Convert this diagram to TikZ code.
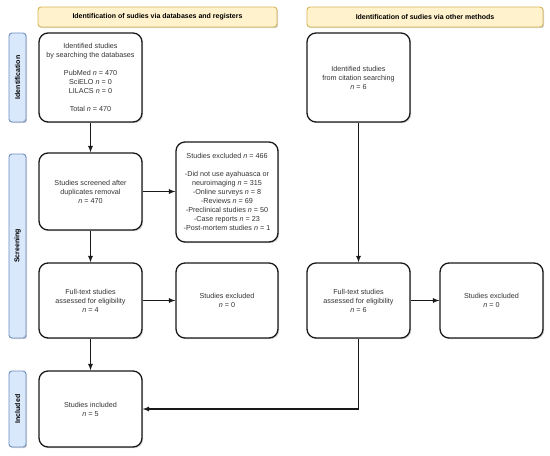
\documentclass[tikz,border=0pt]{standalone}
\usepackage{fontspec}
\setmainfont{Liberation Sans}
\usetikzlibrary{shadows}
\definecolor{headfill}{HTML}{FFF2CC}
\definecolor{headdraw}{HTML}{D6B656}
\definecolor{phasefill}{HTML}{DAE8FC}
\definecolor{phasedraw}{HTML}{6C8EBF}
\begin{document}
\begin{tikzpicture}[x=1pt,y=-1pt]
	\tikzstyle{stagebox} = [draw=black!90, fill=white, rounded corners=9pt, line width=1.3pt, minimum width=103pt, minimum height=77pt, align=center, text=black!80, font={\fontsize{7.2}{9}\selectfont}, drop shadow={shadow xshift=1.2pt, shadow yshift=-1.2pt, opacity=0.35}]
	\tikzstyle{header} = [draw=headdraw, fill=headfill, rounded corners=3pt, line width=0.9pt, minimum height=20pt, font={\bfseries\fontsize{7}{8}\selectfont}, drop shadow={shadow xshift=1.2pt, shadow yshift=-1.2pt, opacity=0.35}]
	\tikzstyle{phase} = [draw=phasedraw, fill=phasefill, rounded corners=3pt, line width=0.9pt, rotate=90, minimum height=17pt, font={\bfseries\fontsize{7}{8}\selectfont}, drop shadow={shadow xshift=1.2pt, shadow yshift=-1.2pt, opacity=0.35}]
	\tikzstyle{flow} = [draw=black!90, line width=1.2pt, -latex]
	\useasboundingbox (0,0) rectangle (550,456);
	% headers and phases
	\node[header, minimum width=239pt] (hdb) at (157.5,17) {Identification of sudies via databases and registers};
	\node[header, minimum width=236pt] (hot) at (425,17) {Identification of sudies via other methods};
	\node[phase, minimum width=89pt] (pid) at (17.5,77.5) {Identification};
	\node[phase, minimum width=184pt] (psc) at (17.5,246) {Screening};
	\node[phase, minimum width=76pt] (pin) at (17.5,409) {Included};
	% databases
	\node[stagebox, minimum height=89pt] (ident) at (90.5,77.5) {Identified studies\\by searching the databases\\[9pt]PubMed \textit{n} = 470\\SciELO \textit{n} = 0\\LILACS \textit{n} = 0\\[9pt]Total \textit{n} = 470};
	\node[stagebox] (screen) at (90.5,191.5) {Studies screened after\\duplicates removal\\\textit{n} = 470};
	\node[stagebox, minimum width=102pt, minimum height=100pt] (excl) at (227,192) {Studies excluded \textit{n} = 466\\[9pt]-Did not use ayahuasca or\\neuroimaging \textit{n} = 315\\-Online surveys \textit{n} = 8\\-Reviews \textit{n} = 69\\-Preclinical studies \textit{n} = 50\\-Case reports \textit{n} = 23\\-Post-mortem studies \textit{n} = 1};
	\node[stagebox, minimum height=75pt] (full) at (90.5,300.5) {Full-text studies\\assessed for eligibility\\\textit{n} = 4};
	\node[stagebox, minimum width=102pt, minimum height=75pt] (exfull) at (227,300.5) {Studies excluded\\\textit{n} = 0};
	\node[stagebox, minimum height=76pt] (incl) at (90.5,409) {Studies included\\\textit{n} = 5};
	% other methods
	\node[stagebox, minimum height=89pt] (cite) at (358.5,77.5) {Identified studies\\from citation searching\\\textit{n} = 6};
	\node[stagebox, minimum height=75pt] (fullo) at (358.5,300.5) {Full-text studies\\assessed for eligibility\\\textit{n} = 6};
	\node[stagebox, minimum height=75pt] (exfullo) at (491.5,300.5) {Studies excluded\\\textit{n} = 0};
	% connectors
	\draw[flow] (ident) -- (screen);
	\draw[flow] (screen.east) -- (screen.east -| excl.west);
	\draw[flow] (screen) -- (full);
	\draw[flow] (full) -- (exfull);
	\draw[flow] (full) -- (incl);
	\draw[flow] (cite) -- (fullo);
	\draw[flow] (fullo) -- (exfullo);
	\draw[flow] (fullo.south) |- (incl.east);
\end{tikzpicture}
\end{document}
